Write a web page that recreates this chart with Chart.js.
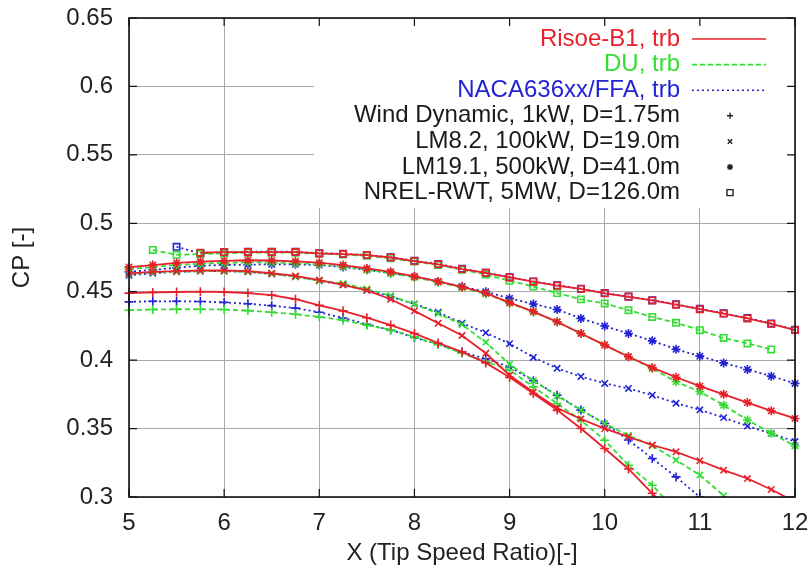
<!DOCTYPE html>
<html>
<head>
<meta charset="utf-8">
<script src="https://cdn.jsdelivr.net/npm/chart.js@4.4.1/dist/chart.umd.min.js"></script>
<style>
  body { margin: 0; background: #fff; }
  canvas { display: block; }
</style>
</head>
<body>
<canvas id="cp" width="812" height="578"></canvas>
<script>
// tip speed ratio, one point every 0.25
const tsr = [5, 5.25, 5.5, 5.75, 6, 6.25, 6.5, 6.75, 7, 7.25, 7.5, 7.75, 8, 8.25, 8.5, 8.75,
             9, 9.25, 9.5, 9.75, 10, 10.25, 10.5, 10.75, 11, 11.25, 11.5, 11.75, 12];

const airfoils = ['Risoe-B1, trb', 'DU, trb', 'NACA636xx/FFA, trb'];
const turbines = ['Wind Dynamic, 1kW, D=1.75m', 'LM8.2, 100kW, D=19.0m', 'LM19.1, 500kW, D=41.0m', 'NREL-RWT, 5MW, D=126.0m'];

const xTicks = [5, 6, 7, 8, 9, 10, 11, 12];
const yTicks = [0.3, 0.35, 0.4, 0.45, 0.5, 0.55, 0.6, 0.65];

// Wind Dynamic 1kW
const risoeWD = [0.449, 0.4495, 0.4498, 0.450, 0.4498, 0.449, 0.4475, 0.4445, 0.440, 0.436, 0.431, 0.4256, 0.4195, 0.4125, 0.406, 0.398,
                 0.3875, 0.3756, 0.3635, 0.350, 0.3354, 0.3205, 0.3027, 0.284, null, null, null, null, null];
const duWD    = [0.4365, 0.437, 0.4372, 0.4372, 0.437, 0.4362, 0.435, 0.4335, 0.4316, 0.4292, 0.4256, 0.4222, 0.417, 0.4115, 0.405, 0.399,
                 0.3927, 0.3805, 0.3683, 0.3561, 0.3415, 0.3232, 0.3086, 0.290, null, null, null, null, null];
const nacaWD  = [0.4426, 0.443, 0.443, 0.4428, 0.4422, 0.4412, 0.4398, 0.438, 0.435, 0.4308, 0.4262, 0.422, 0.4165, 0.4115, 0.406, 0.401,
                 0.395, 0.385, 0.3744, 0.3635, 0.3537, 0.3416, 0.3281, 0.3147, 0.300, 0.285, null, null, null];

// LM8.2 100kW
const risoeLM8 = [0.4634, 0.4645, 0.465, 0.4655, 0.4655, 0.465, 0.4635, 0.4615, 0.4585, 0.455, 0.451, 0.4445, 0.436, 0.427, 0.418, 0.405,
                  0.389, 0.3765, 0.365, 0.357, 0.350, 0.344, 0.338, 0.333, 0.3265, 0.3196, 0.3135, 0.3055, 0.2965];
const duLM8    = [0.4628, 0.464, 0.4645, 0.465, 0.465, 0.4645, 0.463, 0.461, 0.458, 0.456, 0.452, 0.447, 0.441, 0.434, 0.426, 0.413,
                  0.397, 0.385, 0.374, 0.3635, 0.3537, 0.345, 0.3375, 0.327, 0.316, 0.301, 0.285, null, null];
const nacaLM8  = [0.462, 0.4635, 0.4645, 0.465, 0.465, 0.4645, 0.463, 0.461, 0.458, 0.455, 0.451, 0.4465, 0.441, 0.435, 0.427, 0.420,
                  0.412, 0.402, 0.394, 0.388, 0.383, 0.3793, 0.3744, 0.3685, 0.3637, 0.358, 0.3518, 0.3464, 0.3405];

// LM19.1 500kW
const risoeLM19 = [0.468, 0.4695, 0.471, 0.472, 0.4725, 0.473, 0.4728, 0.4722, 0.4712, 0.4695, 0.467, 0.4645, 0.4612, 0.4575, 0.4535, 0.449,
                   0.442, 0.4355, 0.428, 0.4195, 0.411, 0.4025, 0.3945, 0.3875, 0.381, 0.375, 0.369, 0.363, 0.3574];
const duLM19    = [0.4665, 0.468, 0.4695, 0.4705, 0.471, 0.4715, 0.4713, 0.4708, 0.470, 0.4685, 0.466, 0.4635, 0.4605, 0.457, 0.453, 0.4485,
                   0.4418, 0.4352, 0.428, 0.4195, 0.411, 0.4025, 0.394, 0.3842, 0.3769, 0.3671, 0.3563, 0.3466, 0.3373];
const nacaLM19  = [0.4645, 0.466, 0.4675, 0.469, 0.4695, 0.4698, 0.470, 0.470, 0.4695, 0.468, 0.466, 0.4636, 0.461, 0.4575, 0.4538, 0.450,
                   0.4451, 0.441, 0.437, 0.4305, 0.4249, 0.4195, 0.4141, 0.408, 0.4029, 0.398, 0.3932, 0.3883, 0.383];

// NREL-RWT 5MW
const risoeNREL = [null, null, null, 0.4785, 0.479, 0.479, 0.479, 0.479, 0.478, 0.4775, 0.4768, 0.475, 0.4724, 0.470, 0.4665, 0.4638,
                   0.4604, 0.4573, 0.4545, 0.452, 0.4488, 0.4463, 0.4436, 0.4405, 0.4372, 0.434, 0.4305, 0.4265, 0.422];
const duNREL    = [null, 0.4805, 0.477, 0.4775, 0.478, 0.4785, 0.4785, 0.4785, 0.4778, 0.4772, 0.4762, 0.4745, 0.472, 0.4695, 0.466, 0.4625,
                   0.458, 0.4538, 0.449, 0.4444, 0.4414, 0.4365, 0.4316, 0.4273, 0.4219, 0.4162, 0.4122, 0.4078, null];
const nacaNREL  = [null, null, 0.4828, 0.478, 0.4788, 0.4792, 0.4792, 0.4792, 0.4782, 0.4777, 0.4768, 0.4752, 0.4726, 0.4702, 0.4668, 0.4638,
                   0.4606, 0.4575, 0.4547, 0.4522, 0.449, 0.4465, 0.4438, 0.4408, 0.4375, 0.4342, 0.4308, 0.4268, 0.4222];

const cp = [
    [risoeWD, risoeLM8, risoeLM19, risoeNREL],
    [duWD, duLM8, duLM19, duNREL],
    [nacaWD, nacaLM8, nacaLM19, nacaNREL]
];

const colors = ['#e8202a', '#33dd33', '#2323d6'];
const dashes = [[], [5, 3], [2, 3]];
const marks = ['cross', 'crossRot', 'star', 'rect'];
const FONT = "'Liberation Sans', Arial, Helvetica, sans-serif";

function makeDatasets(){
    let sets = [];
    for(let a = 0; a < airfoils.length; a++){
        for(let t = 0; t < turbines.length; t++){
            sets.push({
                label: airfoils[a] + ' / ' + turbines[t],
                data: tsr.map((x, i) => ({x: x, y: cp[a][t][i]})),
                borderColor: colors[a],
                backgroundColor: 'rgba(0,0,0,0)',
                borderWidth: 1.8,
                borderDash: dashes[a],
                pointStyle: marks[t],
                pointRadius: 4.5,
                pointBorderWidth: 1.6,
                pointBorderColor: colors[a],
                pointBackgroundColor: 'rgba(0,0,0,0)',
                tension: 0,
                spanGaps: false,
                clip: {left: 8, right: 8, top: 0, bottom: 0}
            });
        }
    }
    return sets;
}

function drawMark(ctx, style, x, y, r){
    ctx.beginPath();
    if(style === 'cross' || style === 'star'){
        ctx.moveTo(x - r, y); ctx.lineTo(x + r, y);
        ctx.moveTo(x, y - r); ctx.lineTo(x, y + r);
    }
    if(style === 'crossRot' || style === 'star'){
        let d = r * 0.75;
        ctx.moveTo(x - d, y - d); ctx.lineTo(x + d, y + d);
        ctx.moveTo(x - d, y + d); ctx.lineTo(x + d, y - d);
    }
    if(style === 'rect'){
        ctx.rect(x - r, y - r, 2 * r, 2 * r);
    }
    ctx.stroke();
}

// gnuplot-like frame: opaque key, inward ticks, black border
const frame = {
    id: 'frame',
    afterDatasetsDraw(chart){
        const ctx = chart.ctx;
        const a = chart.chartArea;
        const sx = chart.scales.x, sy = chart.scales.y;
        ctx.save();

        // key
        ctx.fillStyle = '#fff';
        ctx.fillRect(314, a.top + 1, a.right - 315, 189);
        ctx.font = '24px ' + FONT;
        ctx.textAlign = 'right';
        ctx.textBaseline = 'middle';
        let rowY = a.top + 21;
        const textX = 680, s0 = 692, s1 = 766, mx = 730;
        airfoils.forEach((name, i) => {
            ctx.fillStyle = colors[i];
            ctx.fillText(name, textX, rowY);
            ctx.strokeStyle = colors[i];
            ctx.lineWidth = 1.6;
            ctx.setLineDash(dashes[i]);
            ctx.beginPath();
            ctx.moveTo(s0, rowY); ctx.lineTo(s1, rowY);
            ctx.stroke();
            rowY += 25.6;
        });
        ctx.setLineDash([]);
        turbines.forEach((name, i) => {
            ctx.fillStyle = '#1a1a1a';
            ctx.fillText(name, textX, rowY);
            ctx.strokeStyle = '#222';
            ctx.lineWidth = 1.4;
            drawMark(ctx, marks[i], mx, rowY, 3);
            rowY += 25.6;
        });

        // ticks
        ctx.strokeStyle = '#111';
        ctx.lineWidth = 1.2;
        const len = 8;
        ctx.beginPath();
        xTicks.forEach(v => {
            let px = sx.getPixelForValue(v);
            ctx.moveTo(px, a.bottom); ctx.lineTo(px, a.bottom - len);
            ctx.moveTo(px, a.top); ctx.lineTo(px, a.top + len);
        });
        yTicks.forEach(v => {
            let py = sy.getPixelForValue(v);
            ctx.moveTo(a.left, py); ctx.lineTo(a.left + len, py);
            ctx.moveTo(a.right, py); ctx.lineTo(a.right - len, py);
        });
        ctx.stroke();

        // border
        ctx.lineWidth = 1.6;
        ctx.strokeRect(a.left, a.top, a.right - a.left, a.bottom - a.top);
        ctx.restore();
    }
};

new Chart(document.getElementById('cp'), {
    type: 'line',
    data: { datasets: makeDatasets() },
    plugins: [frame],
    options: {
        responsive: false,
        animation: false,
        layout: { autoPadding: false, padding: { top: 18, right: 17, left: 0, bottom: 0 } },
        plugins: {
            legend: { display: false },
            tooltip: { enabled: false }
        },
        scales: {
            x: {
                type: 'linear',
                min: 5,
                max: 12,
                afterFit(scale){
                    scale.height = 81;
                    scale.paddingLeft = 0;
                    scale.paddingRight = 0;
                },
                afterBuildTicks(scale){ scale.ticks = xTicks.map(v => ({value: v})); },
                ticks: { color: '#222', font: { family: FONT, size: 24 }, padding: 12 },
                grid: { color: '#aaaaaa', lineWidth: 1, drawTicks: false },
                border: { display: false },
                title: { display: true, text: 'X (Tip Speed Ratio)[-]', color: '#222',
                         font: { family: FONT, size: 24 }, padding: { top: 0, bottom: 10 } }
            },
            y: {
                min: 0.3,
                max: 0.65,
                afterFit(scale){
                    scale.width = 129;
                    scale.paddingTop = 0;
                    scale.paddingBottom = 0;
                },
                afterBuildTicks(scale){ scale.ticks = yTicks.map(v => ({value: v})); },
                ticks: { color: '#222', font: { family: FONT, size: 24 }, padding: 16,
                         callback: v => String(+v.toFixed(2)) },
                grid: { color: '#aaaaaa', lineWidth: 1, drawTicks: false },
                border: { display: false },
                title: { display: true, text: 'CP [-]', color: '#222',
                         font: { family: FONT, size: 24 }, padding: { top: 8, bottom: 0 } }
            }
        }
    }
});
</script>
</body>
</html>
